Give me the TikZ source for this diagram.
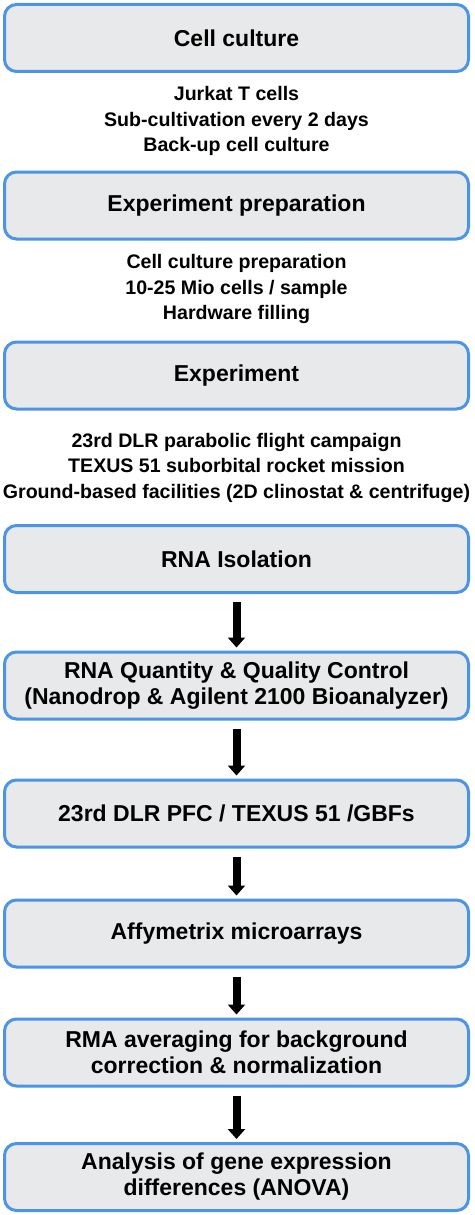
\documentclass[tikz,border=0pt]{standalone}
\usepackage{fontspec}
\setmainfont{Liberation Sans}
\usepackage{xcolor}
\usetikzlibrary{arrows.meta}
\definecolor{boxblue}{RGB}{76,148,230}
\definecolor{boxgray}{RGB}{232,233,234}
\tikzset{
	stepbox/.style={
			draw=boxblue, fill=boxgray, line width=3pt, rounded corners=12pt,
			minimum width=464pt, minimum height=67pt, align=center,
			font=\fontsize{23}{26}\selectfont\bfseries
		},
	info/.style={
			align=center, font=\fontsize{19.6}{25.5}\selectfont\bfseries
		},
	flow/.style={
			line width=8pt, -{Triangle[width=17pt,length=10pt]},
			shorten <=8pt, shorten >=3pt
		}
}

\begin{document}
\begin{tikzpicture}[x=1pt,y=-1pt]
			      \useasboundingbox (0,0) rectangle (474,1215);

			      % preparation stages with their notes
			      \node[stepbox] (culture) at (236.5,38) {Cell culture};
			      \node[info] (cultureinfo) at (236.5,121) {Jurkat T cells\\Sub-cultivation every 2 days\\Back-up cell culture};

			      \node[stepbox] (prep) at (236.5,205.5) {Experiment preparation};
			      \node[info] (prepinfo) at (236.5,289) {Cell culture preparation\\10-25 Mio cells / sample\\Hardware filling};

			      \node[stepbox] (expt) at (236.5,375.5) {Experiment};
			      \node[info] (exptinfo) at (236.5,467.5) {23rd DLR parabolic flight campaign\\TEXUS 51 suborbital rocket mission\\Ground-based facilities (2D clinostat \& centrifuge)};

			      % analysis chain
			      \node[stepbox] (isolation) at (236.5,559) {RNA Isolation};
			      \node[stepbox] (qc) at (236.5,685.5) {RNA Quantity \& Quality Control\\(Nanodrop \& Agilent 2100 Bioanalyzer)};
			      \node[stepbox] (platforms) at (236.5,813.5) {23rd DLR PFC / TEXUS 51 /GBFs};
			      \node[stepbox] (arrays) at (236.5,933.5) {Affymetrix microarrays};
			      \node[stepbox] (rma) at (236.5,1052.5) {RMA averaging for background\\correction \& normalization};
			      \node[stepbox] (anova) at (236.5,1177) {Analysis of gene expression\\differences (ANOVA)};

			      % arrows
			      \draw[flow] (isolation) -- (qc);
			      \draw[flow] (qc) -- (platforms);
			      \draw[flow] (platforms) -- (arrays);
			      \draw[flow] (arrays) -- (rma);
			      \draw[flow] (rma) -- (anova);
		      \end{tikzpicture}
\end{document}
